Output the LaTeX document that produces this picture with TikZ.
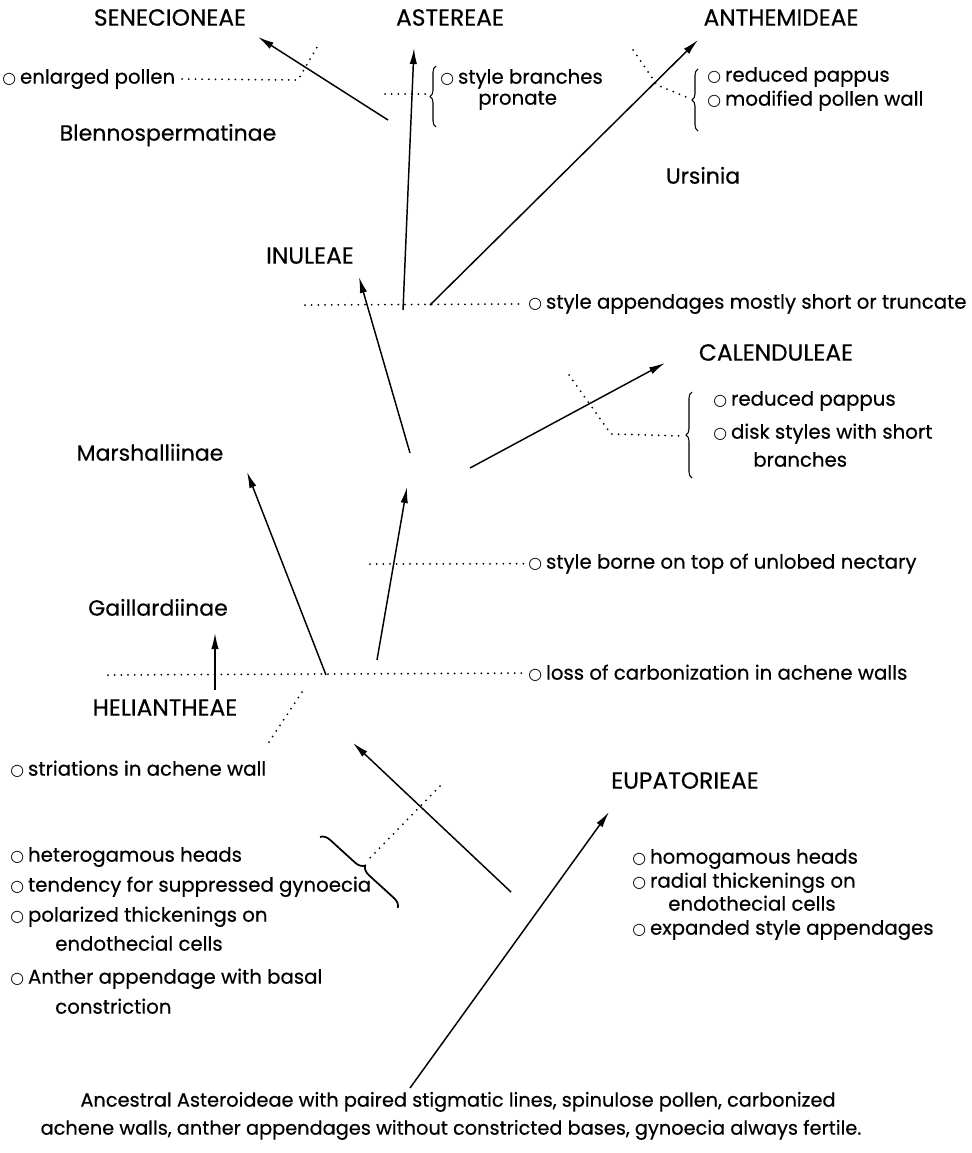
\documentclass[tikz,border=0pt]{standalone}
\usepackage{fontspec}
\setmainfont{Poppins}[FakeBold=0.4]
\newfontfamily\symfnt[Scale=0.8]{DejaVu Sans}
\usetikzlibrary{arrows.meta,decorations.pathreplacing}

\newcommand{\bul}{{\symfnt ○}\hspace{3pt}}
\newcommand{\txtfont}{\fontsize{14.8}{18}\selectfont}
\newcommand{\basefont}{\fontsize{14.5}{18}\selectfont}
\newcommand{\subfont}{\fontsize{16.5}{19}\selectfont}
\newcommand{\capfont}{\fontsize{17.5}{20}\selectfont}

\tikzset{
  arr/.style={-{Latex[length=12pt,width=5.5pt]}, line width=1.1pt},
  dots/.style={line width=1.5pt, line cap=round, dash pattern=on 0pt off 5pt},
  curly/.style={decorate, decoration={brace, amplitude=4.5pt}, line width=0.8pt},
  taxon/.style={inner sep=0pt, anchor=mid, font=\capfont},
  sub/.style={inner sep=0pt, anchor=mid, font=\subfont},
  trait/.style={inner sep=0pt, anchor=mid west, font=\txtfont}
}

\begin{document}
\begin{tikzpicture}[x=0.75pt,y=-0.75pt]
\path[fill=white, use as bounding box] (0,0) rectangle (971,1153);
%
% tribes and subtribes
\node[taxon] (sene) at (170,22) {SENECIONEAE};
\node[taxon] (aster) at (450,22) {ASTEREAE};
\node[taxon] (anthem) at (781,22) {ANTHEMIDEAE};
\node[sub] (blenno) at (168,137) {Blennospermatinae};
\node[sub] (ursinia) at (703,180) {Ursinia};
\node[taxon] (inul) at (310,260) {INULEAE};
\node[taxon] (calend) at (776,357) {CALENDULEAE};
\node[sub] (marsh) at (150,457) {Marshalliinae};
\node[sub] (gaill) at (158,612) {Gaillardiinae};
\node[taxon] (helian) at (165,712) {HELIANTHEAE};
\node[taxon] (eupat) at (685,785) {EUPATORIEAE};
%
% characters
\node[trait] (pollen) at (2,80) {\bul enlarged pollen};
\node[trait] (stybr) at (440,80) {\bul style branches};
\node[trait] (stybr2) at (478,101) {pronate};
\node[trait] (redpap) at (707,78) {\bul reduced pappus};
\node[trait] (modwall) at (707,102) {\bul modified pollen wall};
\node[trait] (append) at (528,305) {\bul style appendages mostly short or truncate};
\node[trait] (redpap2) at (713,402) {\bul reduced pappus};
\node[trait] (disk) at (713,435) {\bul disk styles with short};
\node[trait] (disk2) at (753,463) {branches};
\node[trait] (borne) at (528,565) {\bul style borne on top of unlobed nectary};
\node[trait] (loss) at (528,676) {\bul loss of carbonization in achene walls};
\node[trait] (striat) at (10,772) {\bul striations in achene wall};
\node[trait] (hetero) at (10,858) {\bul heterogamous heads};
\node[trait] (tend) at (10,888) {\bul tendency for suppressed gynoecia};
\node[trait] (polar) at (10,918) {\bul polarized thickenings on};
\node[trait] (polar2) at (55,947) {endothecial cells};
\node[trait] (anther) at (10,980) {\bul Anther appendage with basal};
\node[trait] (anther2) at (55,1010) {constriction};
\node[trait] (homog) at (632,860) {\bul homogamous heads};
\node[trait] (radial) at (632,884) {\bul radial thickenings on};
\node[trait] (radial2) at (668,907) {endothecial cells};
\node[trait] (expand) at (632,931) {\bul expanded style appendages};
\node[sub, font=\basefont] (base1) at (458,1103) {Ancestral Asteroideae with paired stigmatic lines, spinulose pollen, carbonized};
\node[sub, font=\basefont] (base2) at (451,1131) {achene walls, anther appendages without constricted bases, gynoecia always fertile.};
%
% branch ends
\coordinate (root) at (410,1088);
\coordinate (eupatHd) at (609,812);
\coordinate (helTl) at (511,892);
\coordinate (helHd) at (353,743);
\coordinate (gailTl) at (215,690);
\coordinate (gailHd) at (215,633);
\coordinate (marTl) at (326,675);
\coordinate (marHd) at (247,472);
\coordinate (upTl) at (377,660);
\coordinate (upHd) at (407,487);
\coordinate (inuTl) at (410,453);
\coordinate (inuHd) at (359,277);
\coordinate (calTl) at (470,468);
\coordinate (calHd) at (665,363);
\coordinate (astTl) at (403,310);
\coordinate (astHd) at (414,48);
\coordinate (antTl) at (430,305);
\coordinate (antHd) at (698,40);
\coordinate (senTl) at (388,120);
\coordinate (senHd) at (258,37);
%
\draw[arr] (root) -- (eupatHd);
\draw[arr] (helTl) -- (helHd);
\draw[arr] (gailTl) -- (gailHd);
\draw[arr] (marTl) -- (marHd);
\draw[arr] (upTl) -- (upHd);
\draw[arr] (inuTl) -- (inuHd);
\draw[arr] (calTl) -- (calHd);
\draw[arr] (astTl) -- (astHd);
\draw[arr] (antTl) -- (antHd);
\draw[arr] (senTl) -- (senHd);
%
% dotted markers
\coordinate (pBend) at (298,80);
\coordinate (pTop) at (320,42);
\draw[dots] ([xshift=5pt]pollen.east) -- (pBend) -- (pTop);
%
\coordinate (aDot1) at (385,94);
\coordinate (aDot2) at (429,94);
\draw[dots] (aDot1) -- (aDot2);
\draw[curly] (436,127) -- (436,66);
%
\coordinate (nDot1) at (633,50);
\coordinate (nDot2) at (657,85);
\coordinate (nDot3) at (691,99);
\draw[dots] (nDot1) -- (nDot2) -- (nDot3);
\draw[curly] (698,131) -- (698,69);
%
\coordinate (iDot) at (305,305);
\draw[dots] (iDot) -- ([xshift=-3pt]append.west);
%
\coordinate (cDot1) at (569,375);
\coordinate (cDot2) at (611,434);
\coordinate (cDot3) at (684,436);
\draw[dots] (cDot1) -- (cDot2) -- (cDot3);
\draw[curly] (692,478) -- (692,392);
%
\coordinate (bDot) at (370,564);
\draw[dots] (bDot) -- ([xshift=-3pt]borne.west);
%
\coordinate (lDot) at (108,675);
\draw[dots] (lDot) -- ([xshift=-3pt]loss.west);
%
\coordinate (sDot1) at (302,692);
\coordinate (sDot2) at (267,745);
\draw[dots] (sDot1) -- (sDot2);
%
\coordinate (hDot1) at (440,786);
\coordinate (hDot2) at (368,860);
\draw[dots] (hDot1) -- (hDot2);
\draw[curly, decoration={amplitude=7pt}, line width=1.3pt] (320,837) -- (398,908);
\end{tikzpicture}
\end{document}
